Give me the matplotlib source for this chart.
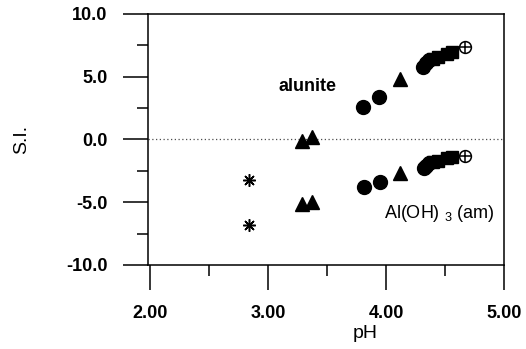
import numpy as np
import matplotlib
matplotlib.use("Agg")
import matplotlib.pyplot as plt
from matplotlib.ticker import MultipleLocator, FormatStrFormatter

plt.rcParams['font.family'] = ['Liberation Sans', 'DejaVu Sans']
plt.rcParams['mathtext.fontset'] = 'custom'
plt.rcParams['mathtext.rm'] = 'Liberation Sans'
plt.rcParams['mathtext.it'] = 'Liberation Sans'
plt.rcParams['mathtext.bf'] = 'Liberation Sans:bold'

# alunite saturation indices
alu_circ_ph = [3.80, 3.94, 4.31, 4.34, 4.36]
alu_circ_si = [2.6, 3.4, 5.8, 6.1, 6.3]
alu_sq_ph = [4.40, 4.44, 4.52, 4.56]
alu_sq_si = [6.4, 6.6, 6.8, 7.0]
alu_tri_ph = [3.29, 3.37, 4.12]
alu_tri_si = [-0.1, 0.2, 4.8]
alu_cross_ph = [4.67]
alu_cross_si = [7.4]

# Al(OH)3 (am) saturation indices
aoh_circ_ph = [3.81, 3.95, 4.32, 4.34, 4.36]
aoh_circ_si = [-3.8, -3.4, -2.3, -2.1, -1.9]
aoh_sq_ph = [4.40, 4.44, 4.52, 4.56]
aoh_sq_si = [-1.8, -1.7, -1.5, -1.4]
aoh_tri_ph = [3.29, 3.37, 4.12]
aoh_tri_si = [-5.1, -5.0, -2.7]
aoh_cross_ph = [4.67]
aoh_cross_si = [-1.3]

star_ph = [2.84, 2.84]
star_si = [-3.2, -6.8]

fig = plt.figure(figsize=(5.26, 3.49), dpi=100)
ax = fig.add_axes([0.2814, 0.2407, 0.6768, 0.7192])

ax.axhline(0, color='0.3', lw=0.9, ls=(0, (1, 2)), zorder=1)

for ph, si in [(alu_circ_ph, alu_circ_si), (aoh_circ_ph, aoh_circ_si)]:
    ax.plot(ph, si, 'o', color='k', ms=10, ls='none')
for ph, si in [(alu_sq_ph, alu_sq_si), (aoh_sq_ph, aoh_sq_si)]:
    ax.plot(ph, si, 's', color='k', ms=9, ls='none')
for ph, si in [(alu_tri_ph, alu_tri_si), (aoh_tri_ph, aoh_tri_si)]:
    ax.plot(ph, si, '^', color='k', ms=10, ls='none')
for ph, si in [(alu_cross_ph, alu_cross_si), (aoh_cross_ph, aoh_cross_si)]:
    ax.plot(ph, si, 'o', mfc='white', mec='k', mew=1.1, ms=8.5, ls='none')
    ax.plot(ph, si, '+', color='k', mew=1.1, ms=8.5, ls='none')
ax.plot(star_ph, star_si, marker=(8, 2, 0), color='k', ms=9, mew=1.1, ls='none')

ax.text(3.33, 4.2, 'alunite', fontsize=13, fontweight='bold', ha='center', va='center')
ax.text(4.45, -5.9, r'Al(OH) $_{3}$ (am)', fontsize=13, ha='center', va='center')

ax.set_xlim(1.98, 5.0)
ax.set_ylim(-10, 10)
ax.xaxis.set_major_locator(MultipleLocator(1.0))
ax.xaxis.set_minor_locator(MultipleLocator(0.5))
ax.yaxis.set_major_locator(MultipleLocator(5.0))
ax.yaxis.set_minor_locator(MultipleLocator(2.5))
ax.xaxis.set_major_formatter(FormatStrFormatter('%.2f'))
ax.yaxis.set_major_formatter(FormatStrFormatter('%.1f'))
ax.tick_params(which='major', direction='out', length=18, width=1.1, labelsize=13, pad=11)
ax.tick_params(which='minor', direction='out', length=8, width=1.1)
for lbl in ax.get_xticklabels() + ax.get_yticklabels():
    lbl.set_fontweight('bold')
for s in ax.spines.values():
    s.set_linewidth(1.1)

ax.set_xlabel('pH', fontsize=14)
ax.set_ylabel('S.I.', fontsize=14)
ax.xaxis.set_label_coords(0.61, -0.24)
ax.yaxis.set_label_coords(-0.33, 0.5)

fig.savefig('out.png', dpi=100)
